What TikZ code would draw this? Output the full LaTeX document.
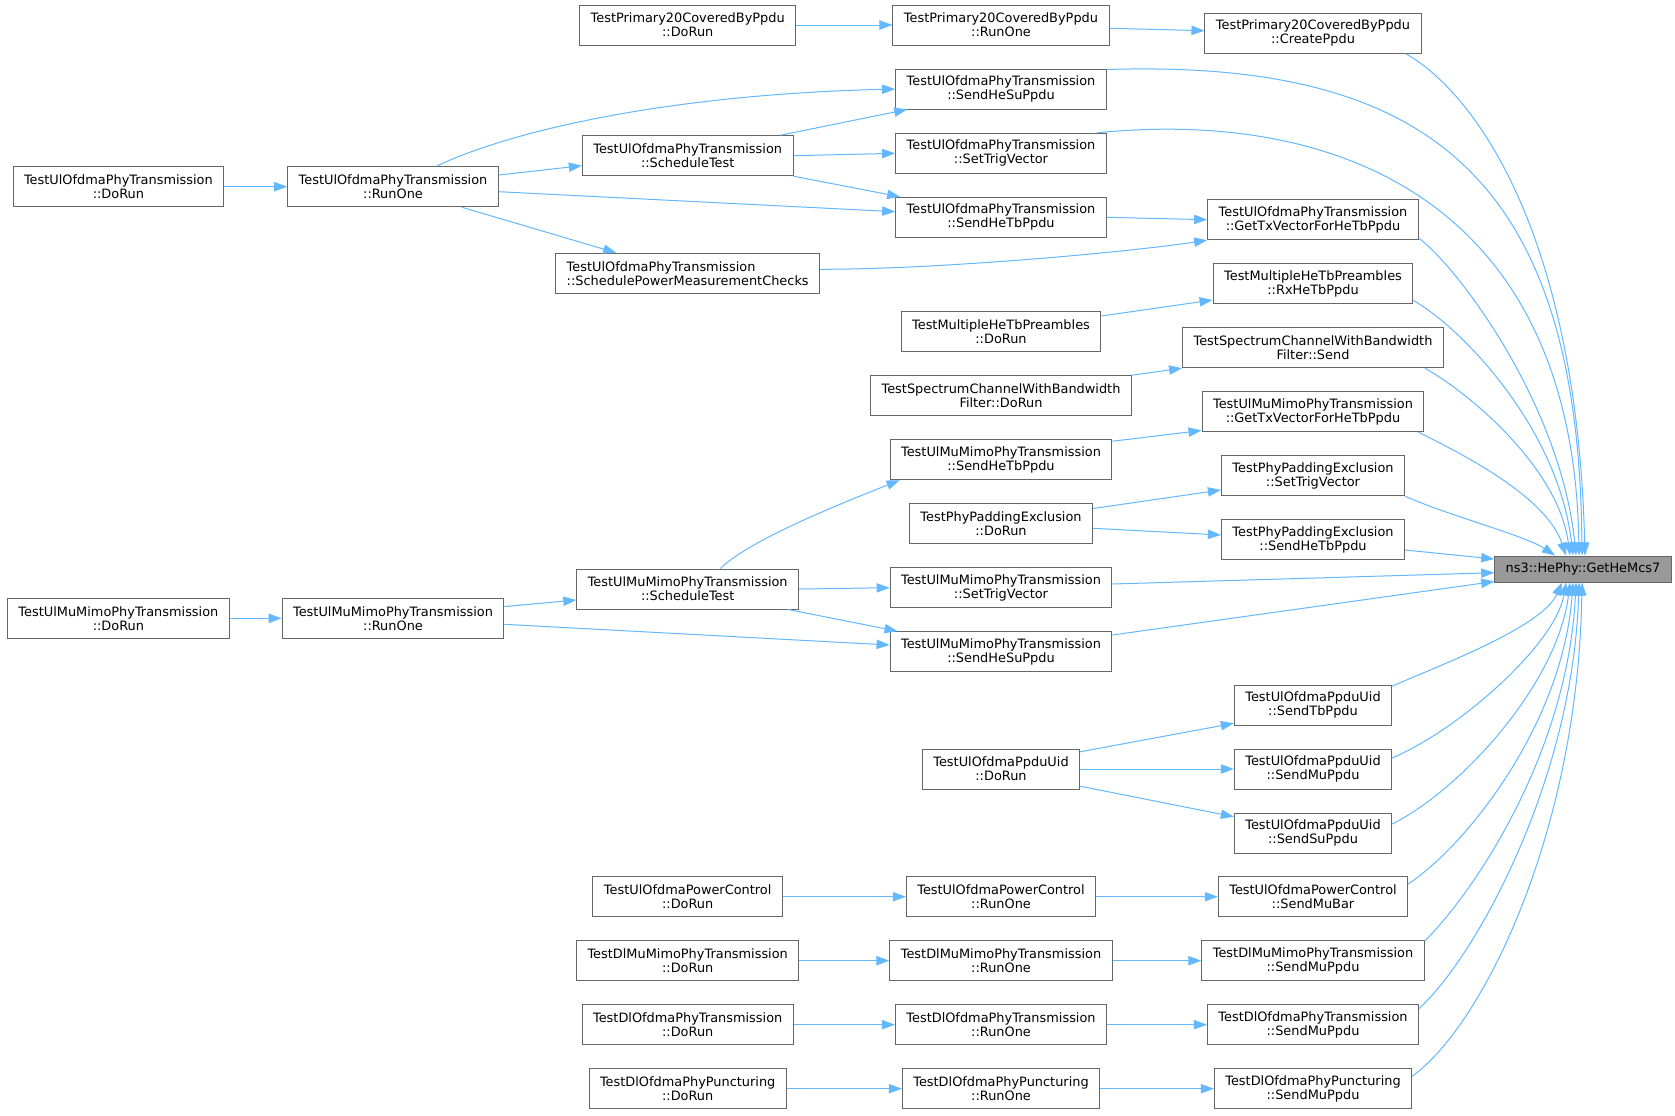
\documentclass[tikz,border=0pt]{standalone}
\usepackage{fontspec}
\setmainfont{DejaVu Sans}
\usetikzlibrary{arrows.meta,calc}
\definecolor{edgeblue}{HTML}{63B8FF}
\definecolor{boxgray}{HTML}{666666}
\definecolor{mcsfill}{HTML}{999999}
\begin{document}
\begin{tikzpicture}[x=0.75pt,y=-0.75pt,
 box/.style={draw=boxgray,fill=white,line width=0.75pt,inner xsep=8.25pt,inner ysep=0pt,minimum height=30pt,align=center,font=\fontsize{9.675}{10.5}\selectfont},
 hl/.style={box,fill=mcsfill,minimum height=19.5pt},
 call/.style={draw=edgeblue,line width=0.75pt,-{Triangle[length=9.75pt,width=7pt]}}]
\fill[white] (0,0) rectangle (1675,1115);
\useasboundingbox (0,0) rectangle (1675,1115);
% column 1
\node[box] (ulofdmaDo) at (118.4,186.7) {TestUlOfdmaPhyTransmission\\::DoRun};
\node[box] (ulmuDo) at (118.4,618.3) {TestUlMuMimoPhyTransmission\\::DoRun};
% column 2
\node[box] (ulofdmaRun) at (393,186.7) {TestUlOfdmaPhyTransmission\\::RunOne};
\node[box] (ulmuRun) at (393,618.3) {TestUlMuMimoPhyTransmission\\::RunOne};
% column 3
\node[box] (p20Do) at (687.7,25) {TestPrimary20CoveredByPpdu\\::DoRun};
\node[box] (ulofdmaSched) at (687.7,155.7) {TestUlOfdmaPhyTransmission\\::ScheduleTest};
\node[box,align=left] (spmc) at (687.7,273.3) {TestUlOfdmaPhyTransmission\\::SchedulePowerMeasurementChecks};
\node[box] (ulmuSched) at (687.7,589) {TestUlMuMimoPhyTransmission\\::ScheduleTest};
\node[box] (pcDo) at (687.7,896.7) {TestUlOfdmaPowerControl\\::DoRun};
\node[box] (dlmuDo) at (687.7,960.7) {TestDlMuMimoPhyTransmission\\::DoRun};
\node[box] (dlofDo) at (687.7,1024.7) {TestDlOfdmaPhyTransmission\\::DoRun};
\node[box] (dlpDo) at (687.7,1088.7) {TestDlOfdmaPhyPuncturing\\::DoRun};
% column 4
\node[box] (p20Run) at (1001,25) {TestPrimary20CoveredByPpdu\\::RunOne};
\node[box] (ulofSendSu) at (1001,89) {TestUlOfdmaPhyTransmission\\::SendHeSuPpdu};
\node[box] (ulofSetTrig) at (1001,153.3) {TestUlOfdmaPhyTransmission\\::SetTrigVector};
\node[box] (ulofSendTb) at (1001,217.3) {TestUlOfdmaPhyTransmission\\::SendHeTbPpdu};
\node[box] (mhtDo) at (1001,331.7) {TestMultipleHeTbPreambles\\::DoRun};
\node[box] (specDo) at (1001,395.7) {TestSpectrumChannelWithBandwidth\\Filter::DoRun};
\node[box] (ulmuSendTb) at (1001,459.7) {TestUlMuMimoPhyTransmission\\::SendHeTbPpdu};
\node[box] (ppeDo) at (1001,523.7) {TestPhyPaddingExclusion\\::DoRun};
\node[box] (ulmuSetTrig) at (1001,587.7) {TestUlMuMimoPhyTransmission\\::SetTrigVector};
\node[box] (ulmuSendSu) at (1001,651.7) {TestUlMuMimoPhyTransmission\\::SendHeSuPpdu};
\node[box] (uidDo) at (1001,769) {TestUlOfdmaPpduUid\\::DoRun};
\node[box] (pcRun) at (1001,896.7) {TestUlOfdmaPowerControl\\::RunOne};
\node[box] (dlmuRun) at (1001,960.7) {TestDlMuMimoPhyTransmission\\::RunOne};
\node[box] (dlofRun) at (1001,1024.7) {TestDlOfdmaPhyTransmission\\::RunOne};
\node[box] (dlpRun) at (1001,1088.7) {TestDlOfdmaPhyPuncturing\\::RunOne};
% column 5
\node[box] (create) at (1313,33.3) {TestPrimary20CoveredByPpdu\\::CreatePpdu};
\node[box] (ulofGetTx) at (1313,219.7) {TestUlOfdmaPhyTransmission\\::GetTxVectorForHeTbPpdu};
\node[box] (mhtRx) at (1313,283.7) {TestMultipleHeTbPreambles\\::RxHeTbPpdu};
\node[box] (specSend) at (1313,347.7) {TestSpectrumChannelWithBandwidth\\Filter::Send};
\node[box] (ulmuGetTx) at (1313,411.7) {TestUlMuMimoPhyTransmission\\::GetTxVectorForHeTbPpdu};
\node[box] (ppeSetTrig) at (1313,475.7) {TestPhyPaddingExclusion\\::SetTrigVector};
\node[box] (ppeSendTb) at (1313,539.7) {TestPhyPaddingExclusion\\::SendHeTbPpdu};
\node[box] (uidTb) at (1313,705) {TestUlOfdmaPpduUid\\::SendTbPpdu};
\node[box] (uidMu) at (1313,769) {TestUlOfdmaPpduUid\\::SendMuPpdu};
\node[box] (uidSu) at (1313,833) {TestUlOfdmaPpduUid\\::SendSuPpdu};
\node[box] (pcBar) at (1313,896.7) {TestUlOfdmaPowerControl\\::SendMuBar};
\node[box] (dlmuSend) at (1313,960.7) {TestDlMuMimoPhyTransmission\\::SendMuPpdu};
\node[box] (dlofSend) at (1313,1024.7) {TestDlOfdmaPhyTransmission\\::SendMuPpdu};
\node[box] (dlpSend) at (1313,1088.7) {TestDlOfdmaPhyPuncturing\\::SendMuPpdu};
% column 6
\node[hl] (mcs) at (1583,569) {ns3::HePhy::GetHeMcs7};
% edges
\draw[call] (ulofdmaDo) -- (ulofdmaRun);
\draw[call] (ulmuDo) -- (ulmuRun);
\draw[call] (p20Do) -- (p20Run);
\draw[call] ($(p20Run.east)+(0,3.3)$) -- ($(create.west)+(0,-2.6)$);
\draw[call] ($(create.south east)+(-15.5,0)$) .. controls +(70,40) and +(-8,-320) .. ($(mcs.north)+(2,0)$);
\draw[call] ($(ulofdmaRun.north)+(43.5,0)$) .. controls +(64,-31) and +(-243,6) .. (ulofSendSu.west);
\draw[call] ($(ulofdmaSched.north east)+(-13,0)$) -- ($(ulofSendSu.south west)+(12,0)$);
\draw[call] ($(ulofSendSu.north east)+(0,1)$) .. controls +(320,-10) and +(-3,-380) .. ($(mcs.north)+(-1,0)$);
\draw[call] ($(ulofdmaRun.east)+(0,-11.7)$) -- ($(ulofdmaSched.west)+(0,10)$);
\draw[call] (ulofdmaSched.east) -- (ulofSetTrig.west);
\draw[call] ($(ulofSetTrig.north east)+(-10,0)$) .. controls +(250,-25) and +(-5,-346) .. ($(mcs.north)+(-4,0)$);
\draw[call] (ulofdmaSched.south east) -- ($(ulofSendTb.north west)+(5,0)$);
\draw[call] ($(ulofdmaRun.east)+(0,5)$) -- ($(ulofSendTb.west)+(0,-5.6)$);
\draw[call] ($(ulofdmaRun.south)+(68.7,0)$) -- ($(spmc.north)+(-71.5,0)$);
\draw[call] (ulofSendTb.east) -- (ulofGetTx.west);
\draw[call] ($(spmc.east)+(0,-4)$) .. controls +(120,0) and +(-80,12) .. (ulofGetTx.south west);
\draw[call] ($(ulofGetTx.south east)+(0,-2)$) .. controls +(40,30) and +(-15,-150) .. ($(mcs.north)+(-7,0)$);
\draw[call] ($(mhtDo.east)+(0,-15.7)$) -- ($(mhtRx.west)+(0,16.3)$);
\draw[call] ($(mhtRx.south east)+(0,-3.7)$) .. controls +(45,25) and +(-15,-130) .. ($(mcs.north)+(-10,0)$);
\draw[call] (specDo.north east) -- (specSend.south west);
\draw[call] ($(specSend.south east)+(-19,0)$) .. controls +(40,22) and +(-12,-90) .. ($(mcs.north)+(-13,0)$);
\draw[call] ($(ulmuSendTb.north east)+(0,2)$) -- ($(ulmuGetTx.south west)+(0,-1.7)$);
\draw[call] ($(ulmuGetTx.south east)+(-6,0)$) .. controls +(40,20) and +(-20,-60) .. ($(mcs.north)+(-17,0)$);
\draw[call] ($(ulmuSched.north)+(32.7,0)$) .. controls +(30,-30) and +(-45,18) .. ($(ulmuSendTb.south west)+(10,0)$);
\draw[call] ($(ppeDo.north east)+(0,5.3)$) -- ($(ppeSetTrig.west)+(0,14.3)$);
\draw[call] ($(ppeDo.east)+(0,4.6)$) -- ($(ppeSendTb.west)+(0,-4.7)$);
\draw[call] (ppeSetTrig.south east) .. controls +(45,20) and +(-30,-20) .. ($(mcs.north)+(-28,0)$);
\draw[call] ($(ppeSendTb.east)+(0,10.3)$) -- ($(mcs.west)+(0,-10)$);
\draw[call] ($(ulmuSetTrig.east)+(0,-3.7)$) -- ($(mcs.west)+(0,3.7)$);
\draw[call] ($(ulmuSendSu.east)+(0,-16.7)$) -- ($(mcs.west)+(0,12.5)$);
\draw[call] ($(ulmuRun.east)+(0,-11.7)$) -- ($(ulmuSched.west)+(0,11)$);
\draw[call] (ulmuSched.east) -- (ulmuSetTrig.west);
\draw[call] ($(ulmuSched.south east)+(-11,0)$) -- ($(ulmuSendSu.north west)+(8,0)$);
\draw[call] ($(ulmuRun.east)+(0,6)$) -- ($(ulmuSendSu.west)+(0,-6.7)$);
\draw[call] ($(uidDo.north east)+(0,3.3)$) -- ($(uidTb.west)+(0,18.3)$);
\draw[call] (uidDo) -- (uidMu);
\draw[call] ($(uidDo.south east)+(0,-3.3)$) -- ($(uidSu.west)+(0,-16.3)$);
\draw[call] ($(uidTb.north east)+(0,1.7)$) .. controls +(45,-20) and +(-20,45) .. ($(mcs.south)+(-21,0)$);
\draw[call] ($(uidMu.east)+(0,-11)$) .. controls +(70,-30) and +(-10,60) .. ($(mcs.south)+(-17,0)$);
\draw[call] ($(uidSu.east)+(0,-9)$) .. controls +(70,-35) and +(-12,100) .. ($(mcs.south)+(-13,0)$);
\draw[call] ($(pcBar.east)+(0,-12.7)$) .. controls +(60,-40) and +(-10,140) .. ($(mcs.south)+(-10,0)$);
\draw[call] ($(dlmuSend.north east)+(0,1)$) .. controls +(50,-50) and +(-8,170) .. ($(mcs.south)+(-7,0)$);
\draw[call] ($(dlofSend.north east)+(0,4.3)$) .. controls +(55,-50) and +(-6,200) .. ($(mcs.south)+(-4,0)$);
\draw[call] ($(dlpSend.north east)+(0,8)$) .. controls +(70,-50) and +(-4,250) .. ($(mcs.south)+(-1,0)$);
\draw[call] (pcDo) -- (pcRun);
\draw[call] (pcRun) -- (pcBar);
\draw[call] (dlmuDo) -- (dlmuRun);
\draw[call] (dlmuRun) -- (dlmuSend);
\draw[call] (dlofDo) -- (dlofRun);
\draw[call] (dlofRun) -- (dlofSend);
\draw[call] (dlpDo) -- (dlpRun);
\draw[call] (dlpRun) -- (dlpSend);
\end{tikzpicture}
\end{document}
